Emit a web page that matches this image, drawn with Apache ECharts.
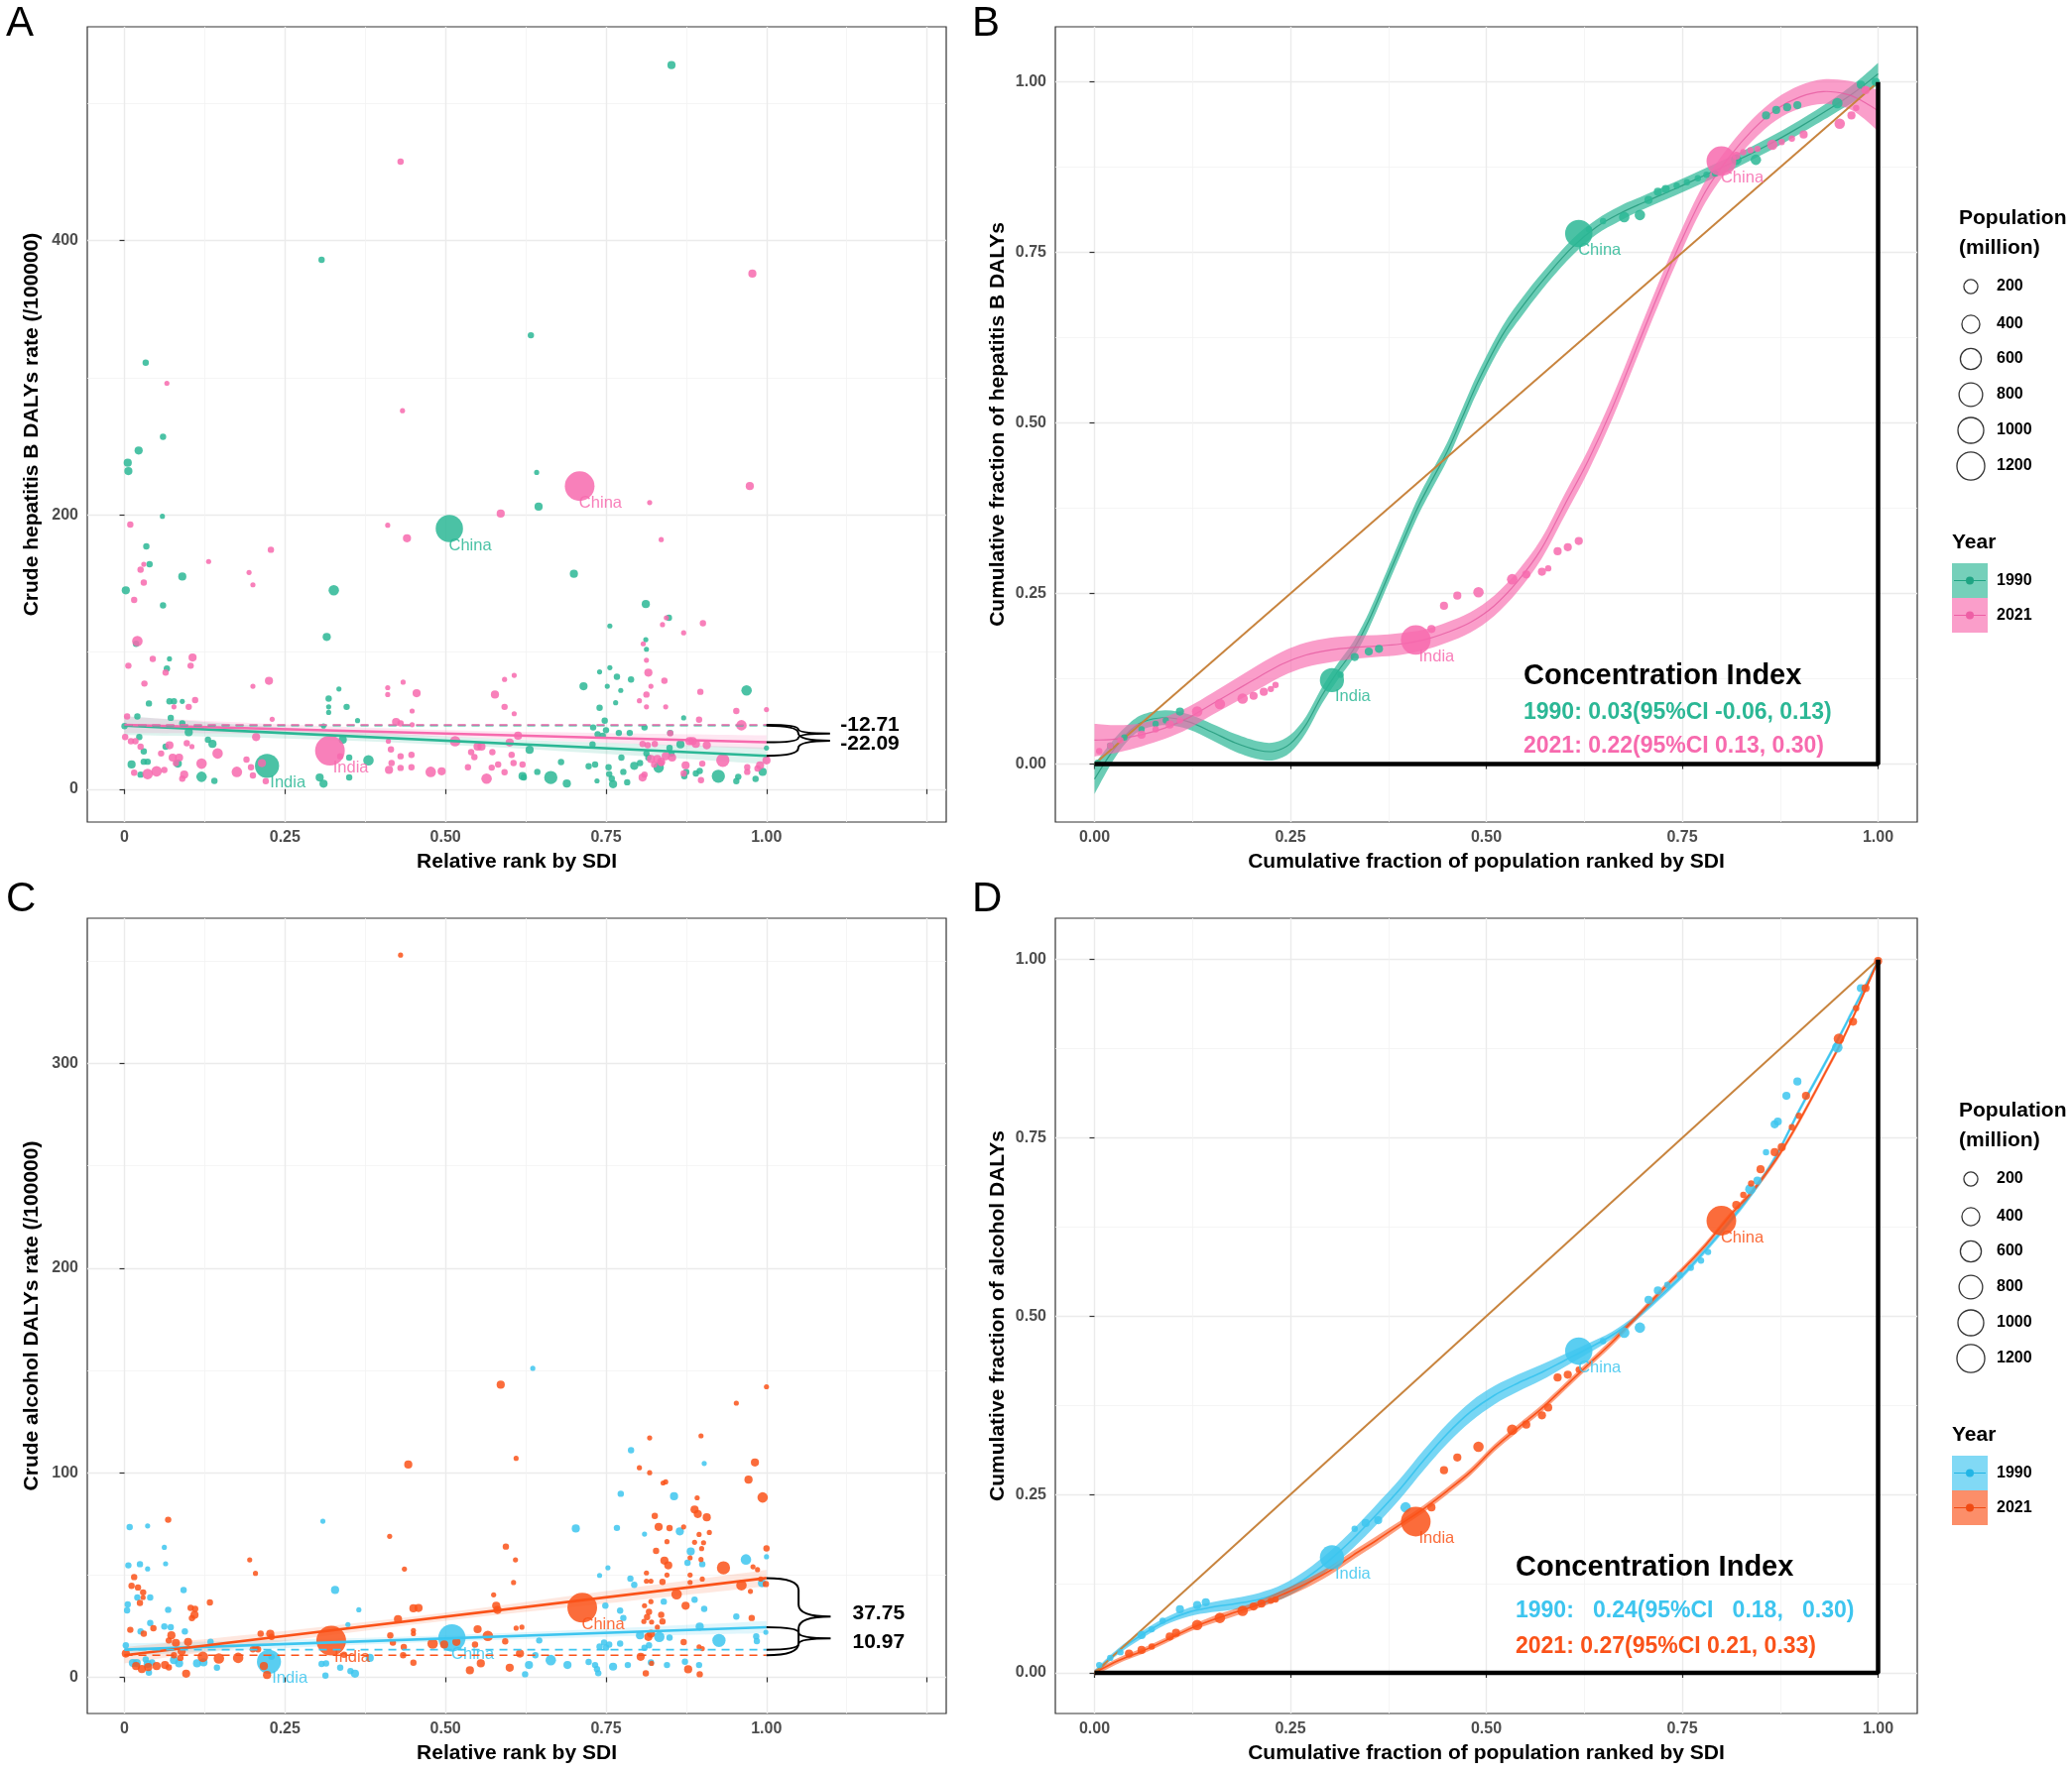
<!DOCTYPE html>
<html><head><meta charset="utf-8">
<script src="https://cdn.jsdelivr.net/npm/echarts@6/dist/echarts.min.js"></script>
<style>html,body{margin:0;padding:0;background:#fff}#c{width:2089px;height:1788px}</style>
</head><body><div id="c"></div><script>
const FONT = '"Liberation Sans", Arial, sans-serif';
const C_TEAL = '#2BB795', C_PINK = '#F76AAE', C_BLUE = '#3DC5EF', C_ORANGE = '#FA5219';

// ---------- Tick labels ----------
const rankTicks = [0, 0.25, 0.5, 0.75, 1, 1.25];
const rankLabels = [0, 0.25, 0.5, 0.75, 1];
const rankMinor = [0.125, 0.375, 0.625, 0.875, 1.125];
const hepYTicks = [0, 200, 400];
const hepYMinor = [100, 300, 500];
const alcYTicks = [0, 100, 200, 300];
const alcYMinor = [50, 150, 250, 350];
const fracTicks = [0, 0.25, 0.5, 0.75, 1];
const fracMinor = [0.125, 0.375, 0.625, 0.875];
const popLegend = [200, 400, 600, 800, 1000, 1200];

// ---------- Panel A: hepatitis B, [rank, rate, population] ----------
const hep1990 = [
[0.852,528,30],[0.307,386,8],[0.633,331,8],[0.033,311,8],[0.06,257,8],[0.022,247,30],[0.005,238,30],[0.006,232,30],[0.059,199,1],[0.034,177,8],[0.039,164,8],[0.09,155,30],[0.002,145,30],[0.06,134,8],[0.642,231,1],[0.645,206,30],[0.70,157,30],[0.315,111,30],[0.326,145,80],[0.812,135,30],[0.848,125,8],
[0.018,106,8],[0.07,95,1],[0.066,88,8],[0.038,62.5,8],[0.07,64,8],[0.077,64,8],[0.09,64,1],[0.02,53,8],[0.072,52,8],[0.09,48,8],[0,46,8],[0.023,38,8],[0.1,41.5,30],[0.13,36,8],[0.137,33,30],[0.03,27.5,8],[0.064,31,8],[0.011,18,30],[0.03,20,8],[0.036,20,8],[0.083,18.6,30],[0.025,10.6,8],[0.12,9,80],[0.14,6,8],[0.304,8.5,30],[0.31,4,30],[0.318,66,8],[0.318,60,1],[0.318,56,1],[0.334,73,1],[0.346,60,8],[0.363,50,1],[0.31,46,1],[0.34,36,30],[0.35,23,8],[0.38,21,80],[0.35,8.5,8],[0.62,9.5,30],
[0.756,119,1],[0.812,109,1],[0.813,102,1],[0.715,75,30],[0.767,82,8],[0.789,80,8],[0.74,85.5,1],[0.756,88.6,1],[0.752,75,1],[0.773,72,1],[0.765,63,1],[0.74,59.4,8],[0.969,72,80],[0.871,52,1],[0.73,45,8],[0.737,40,8],[0.745,39,8],[0.748,50,8],[0.75,43,8],[0.77,41,8],[0.787,41,8],[0.81,45,8],[0.85,41,8],[0.866,32.6,30],[0.729,32.6,8],[0.631,28.7,30],[0.68,19.8,8],[0.664,8.5,170],[0.689,4.1,30],[0.643,12.6,8],[0.622,8.5,8],[0.723,16.7,8],[0.733,18,8],[0.754,16,8],[0.755,11,8],[0.774,23,8],[0.777,12.6,8],[0.794,17,30],[0.803,19,8],[0.783,5,8],[0.761,3.6,30],[0.736,6,1],[0.759,7.7,8],[0.813,26,8],[0.816,23,8],[0.832,15.7,80],[0.849,30,8],[0.852,26,8],[0.875,12.6,8],[0.872,9.4,8],[0.89,11.4,8],[0.896,13.3,8],[0.925,9.4,170],[0.953,5.8,8],[0.956,9,8],[0.983,7.5,8],[0.994,12.6,30],[1.0,30,1]
];
const hep2021 = [
[0.43,457.7,8],[0.433,276,1],[0.066,296,1],[0.978,376,30],[0.974,221,30],[0.586,201,30],[0.818,209,1],[0.836,182,1],[0.41,192.5,1],[0.44,183,30],[0.009,193,8],[0.228,174.6,8],[0.131,166,1],[0.194,158,1],[0.2,149,1],[0.025,160,8],[0.03,164,1],[0.03,150.7,8],[0.015,138,8],[0.02,108,80],
[0.006,90,8],[0.044,95,8],[0.106,96,30],[0.103,90,8],[0.064,85,8],[0.031,77,8],[0.225,79,30],[0.2,75,1],[0.11,65,8],[0.1,60,8],[0.077,60,1],[0.004,53,8],[0.23,51,1],[0.001,38,8],[0.205,38,30],[0.01,35,8],[0.017,35,8],[0.025,31,8],[0.07,32,30],[0.057,26,8],[0.097,33.5,8],[0.105,31,1],[0.075,23,30],[0.085,23,30],[0.08,19,8],[0.12,18.6,80],[0.145,26,80],[0.05,13,80],[0.036,11,80],[0.062,14,8],[0.093,10.6,30],[0.09,7.7,8],[0.015,12,8],[0.175,12.6,80],[0.197,16,8],[0.2,10,8],[0.19,21.5,8],[0.22,5.8,8],[0.214,19,30],[0.336,24,8],[0.41,74,1],[0.41,69,1],[0.434,78,1],[0.455,70,30],[0.423,49,30],[0.43,48,8],[0.448,57,1],[0.448,47,1],[0.411,35,1],[0.415,29,8],[0.43,24,8],[0.447,25,8],[0.447,16,8],[0.416,19,8],[0.412,14,30],[0.43,15.5,8],[0.477,12.6,80],[0.494,13,30],[0.515,35,80],[0.55,31,30],[0.556,31,30],[0.54,27,8],[0.545,23.4,8],[0.535,16,8],[0.564,7.7,80],[0.577,69,30],[0.592,60,8],[0.592,80,1],[0.607,83,1],[0.607,55,1],[0.613,39,30],[0.6,34,30],[0.573,27,8],[0.603,25,8],[0.582,18,8],[0.572,15.7,8],[0.592,12.3,8],[0.606,19,8],[0.62,18,8],
[0.901,121,8],[0.871,114,1],[0.838,120,1],[0.844,125,1],[0.808,106,1],[0.813,94,1],[0.816,85,30],[0.841,79,8],[0.82,75,1],[0.813,69,8],[0.802,64.5,1],[0.813,60,1],[0.843,60,1],[0.897,71,8],[0.953,57,8],[1.0,58,1],[0.895,50.7,8],[0.961,46.6,80],[0.807,33,8],[0.815,32,8],[0.826,33,8],[0.85,40.8,8],[0.88,35,30],[0.885,35,30],[0.89,33,30],[0.907,32,30],[0.82,22,30],[0.83,22,30],[0.836,20,30],[0.843,24,30],[0.853,23,30],[0.825,18,8],[0.836,19,8],[0.874,17.4,30],[0.9,18.6,8],[0.932,21,170],[1.0,21,30],[0.99,17.4,30],[0.807,8.5,30],[0.81,10.6,8],[0.898,6.5,8],[0.97,12.6,8],[0.97,16,8],[0.986,15,8],[0.871,11.4,8]
];
const hepKey1990 = [['China',0.506,190,1150],['India',0.222,17,850]];
const hepKey2021 = [['China',0.709,221,1400],['India',0.32,28,1400]];
const hepFit1990 = [[0,46.4],[1,24.3]];
const hepFit2021 = [[0,46.9],[1,34.2]];
const hepBand1990 = [[0,39.4,53.4],[0.25,36.9,44.9],[0.5,32.4,38.4],[0.75,25.8,33.8],[1,18.3,30.3]];
const hepBand2021 = [[0,40.9,52.9],[0.25,40.2,47.2],[0.5,38,43],[0.75,33.9,40.9],[1,29.2,39.2]];
const hepBase1990 = [[0,46.4],[1,46.4]];
const hepBase2021 = [[0,46.9],[1,46.9]];
const hepBraces = [[1.0,46.9,34.2,1.099],[1.0,46.4,24.3,1.099]];
const hepBraceText = [[1.115,46.7,'-12.71'],[1.115,32.9,'-22.09']];

// ---------- Panel C: alcohol ----------
const alc1990 = [
[0.636,151,1],
[0.008,73.4,8],[0.036,74,1],[0.006,54.7,8],[0.024,55.3,8],[0.036,53,1],[0.062,63.5,1],[0.064,55.5,1],[0.309,76.3,1],[0.328,42.7,30],[0.365,33,1],[0.348,25.8,1],[0.092,42.6,8],[0.068,33,8],[0.04,39,8],[0.02,39,8],[0.005,35.6,8],[0.004,32.7,8],[0.04,26.5,8],[0.025,22.4,8],[0.062,24.8,8],[0.072,24.5,8],[0.094,22.4,8],[0.002,15.6,8],[0.013,7,30],[0.019,7,30],[0.036,6.5,30],[0.033,8.7,8],[0.043,7.3,8],[0.038,2.3,8],[0.077,8.4,30],[0.085,6.8,30],[0.113,6.8,30],[0.123,7.3,30],[0.144,4.7,8],[0.134,17.3,8],[0.229,10,8],[0.307,6.5,8],[0.314,6.8,8],[0.313,0.8,8],[0.336,4.7,8],[0.352,3,8],[0.359,1.8,30],[0.382,9.5,30],[0.624,1.5,8],
[0.789,111,8],[0.903,104.5,1],[0.773,89.7,8],[0.856,88.5,30],[0.703,72.7,30],[0.767,73,8],[0.865,71.3,30],[0.81,70,1],[0.882,61.5,30],[0.9,55.3,8],[0.877,56,8],[0.968,57.6,80],[1.0,58.9,1],[0.753,53.5,1],[0.74,49.8,1],[0.788,48.2,8],[0.794,45.2,8],[0.993,46,30],[0.888,37.9,8],[0.903,33.4,8],[0.84,37,8],[0.749,35,8],[0.772,32.6,8],[0.777,29,8],[0.953,29.7,8],[0.896,24.8,30],[0.803,20.5,30],[0.833,19.7,80],[0.926,18,170],[0.849,19.4,8],[0.74,15,8],[0.747,17,8],[0.755,16,8],[0.75,14.5,8],[0.772,16.5,8],[0.81,14.4,8],[0.817,15.6,8],[0.63,6,30],[0.64,10.8,8],[0.646,18,8],[0.664,8.4,80],[0.69,6,30],[0.723,7.5,8],[0.733,6,8],[0.736,4,8],[0.738,2,8],[0.761,5.2,30],[0.784,6,8],[0.82,7.3,8],[0.845,6,8],[0.873,7.6,8],[0.895,6,8],[0.984,20,8],[0.985,17.7,8],[0.999,22,1]
];
const alc2021 = [
[0.43,353,1],[0.586,143,30],[1.0,142,1],[0.953,134,1],[0.818,117,1],[0.898,118,1],
[0.068,77,8],[0.195,57.4,1],[0.204,50.8,1],[0.015,49,8],[0.011,44.7,8],[0.021,43.9,8],[0.029,41.5,8],[0.029,39,1],[0.024,36.3,8],[0.009,23.2,8],[0.045,24,8],[0.03,21.3,8],[0.073,20.5,30],[0.069,18,8],[0.103,33.9,8],[0.11,33.4,8],[0.109,30.5,30],[0.105,28.9,8],[0.133,36.6,8],[0.08,16.8,30],[0.099,17.3,30],[0.089,12.7,30],[0.002,11.6,30],[0.077,10.8,8],[0.087,9.5,8],[0.018,5.5,30],[0.027,4,30],[0.037,5,30],[0.05,5.5,30],[0.063,6,30],[0.069,4.8,8],[0.096,1.8,30],[0.122,10,80],[0.147,9.2,80],[0.177,9.5,80],[0.2,13.7,8],[0.204,14.4,8],[0.208,13.7,8],[0.212,21.3,8],[0.227,21.3,30],[0.229,19.7,8],[0.217,5.5,30],[0.222,1.1,30],[0.342,11,8],[0.413,68.9,1],[0.436,52.9,1],[0.426,28.4,30],[0.45,33.7,30],[0.458,33.9,30],[0.45,22.9,1],[0.45,21.3,1],[0.414,20.5,8],[0.418,16.9,8],[0.435,14.8,8],[0.434,10.8,8],[0.45,7.1,8],[0.442,104,30],[0.48,16.5,80],[0.498,16,30],[0.517,17.3,30],[0.55,23.5,30],[0.546,16,8],[0.538,3.4,30],[0.555,6.8,30],[0.566,20.2,80],[0.579,35,30],[0.581,32.9,30],[0.575,40.3,1],[0.594,63.9,8],[0.609,57.4,1],[0.606,46.3,1],[0.61,107,1],[0.61,24,1],[0.593,17.6,8],[0.6,4.7,30],[0.616,11.6,30],
[0.982,105,30],[0.972,96.6,30],[0.994,87.9,80],[0.802,102.4,1],[0.818,100,1],[0.839,95,1],[0.843,95.5,1],[0.892,87.7,1],[0.888,82,30],[0.893,79.8,30],[0.907,78.2,30],[0.826,78.9,8],[0.832,73.5,30],[0.849,72.9,8],[0.871,73.5,1],[0.911,70.8,1],[0.895,69.8,1],[0.845,66.3,1],[0.888,66,1],[0.902,65.8,1],[0.899,62.9,1],[0.828,61.8,8],[1.0,63,8],[0.881,58.4,1],[0.898,57.6,1],[0.841,57,30],[0.847,54.7,30],[0.933,53.5,170],[0.979,54,1],[0.986,52.6,1],[0.813,51,1],[0.845,50,1],[0.813,47,1],[0.82,47,1],[0.838,46.6,8],[0.881,50,1],[0.881,46.4,1],[0.9,48,1],[0.961,45,80],[0.975,42,1],[0.991,48,1],[0.999,45.6,8],[0.86,40.6,80],[0.82,37,1],[0.81,35,1],[0.874,35,30],[0.836,30.5,8],[0.817,32,8],[0.814,29.4,8],[0.821,27,1],[0.977,29,8],[0.838,27.3,8],[0.809,27.3,1],[0.619,24.5,1],[0.816,19.7,30],[0.82,21.3,30],[0.83,24.5,1],[0.871,17.2,8],[0.895,14.8,1],[0.9,14,1],[0.804,10,30],[0.821,6.8,1],[0.812,1.9,8],[0.878,3.9,30],[0.896,1.5,8]
];
const alcKey1990 = [['China',0.51,19.2,1150],['India',0.225,7.6,850]];
const alcKey2021 = [['China',0.713,34,1400],['India',0.322,17.9,1400]];
const alcFit1990 = [[0,13.5],[1,24.5]];
const alcFit2021 = [[0,10.8],[1,48.5]];
const alcBand1990 = [[0,10.5,16.5],[0.25,14.25,18.25],[0.5,17.5,20.5],[0.75,19.75,23.75],[1,21.5,27.5]];
const alcBand2021 = [[0,6.8,14.8],[0.25,17.7,22.7],[0.5,27.65,31.65],[0.75,36.1,42.1],[1,44.5,52.5]];
const alcBase1990 = [[0,13.5],[1,13.5]];
const alcBase2021 = [[0,10.8],[1,10.8]];
const alcBraces = [[1.0,48.5,10.8,1.10],[1.0,24.5,13.5,1.10]];
const alcBraceText = [[1.134,31,'37.75'],[1.134,16.9,'10.97']];

// ---------- Panel B: concentration curve hepatitis B [cumPop, cumDALY, population] ----------
const conHep1990 = [[0.004,0.002,8],[0.02,0.027,8],[0.038,0.039,8],[0.06,0.051,8],[0.078,0.059,8],[0.091,0.064,8],[0.109,0.077,30],[0.314,0.131,8],[0.332,0.157,30],[0.35,0.165,30],[0.363,0.169,30],[0.631,0.784,8],[0.649,0.796,8],[0.676,0.802,80],[0.696,0.805,80],[0.707,0.827,30],[0.719,0.839,30],[0.729,0.843,30],[0.743,0.848,8],[0.756,0.853,8],[0.77,0.859,8],[0.781,0.864,8],[0.792,0.866,8],[0.819,0.886,80],[0.844,0.886,80],[0.857,0.951,30],[0.87,0.959,30],[0.884,0.963,30],[0.897,0.966,30],[0.948,0.969,80],[0.978,0.996,30],[0.997,1.0,30]];
const conHep2021 = [[0.006,0.019,8],[0.02,0.027,8],[0.033,0.035,8],[0.06,0.043,30],[0.078,0.051,8],[0.096,0.058,30],[0.109,0.064,8],[0.131,0.077,80],[0.16,0.088,80],[0.189,0.096,80],[0.203,0.1,30],[0.216,0.106,30],[0.225,0.11,8],[0.231,0.116,8],[0.43,0.198,30],[0.446,0.232,30],[0.463,0.247,30],[0.49,0.252,80],[0.533,0.271,80],[0.551,0.278,30],[0.571,0.282,30],[0.579,0.287,8],[0.591,0.312,30],[0.604,0.318,30],[0.618,0.327,30],[0.819,0.892,30],[0.828,0.897,8],[0.837,0.9,8],[0.846,0.902,8],[0.865,0.908,80],[0.877,0.912,8],[0.89,0.917,8],[0.905,0.923,30],[0.951,0.939,80],[0.966,0.951,30],[0.972,0.962,8],[0.984,0.988,30]];
const conHepKey1990 = [['China',0.618,0.778,1150],['India',0.303,0.123,850]];
const conHepKey2021 = [['China',0.8,0.884,1400],['India',0.41,0.182,1400]];
// smoothed curve: [x, y, half band width]
const conHepCurve1990 = [[0,-0.022,0.022],[0.02,0.014,0.016],[0.04,0.043,0.012],[0.06,0.061,0.011],[0.09,0.068,0.011],[0.12,0.062,0.011],[0.15,0.047,0.012],[0.18,0.031,0.013],[0.21,0.020,0.013],[0.23,0.019,0.013],[0.25,0.03,0.013],[0.27,0.058,0.012],[0.29,0.10,0.012],[0.31,0.135,0.012],[0.33,0.167,0.012],[0.35,0.21,0.012],[0.38,0.29,0.012],[0.41,0.37,0.013],[0.43,0.415,0.013],[0.45,0.458,0.013],[0.47,0.51,0.013],[0.49,0.562,0.013],[0.52,0.628,0.013],[0.55,0.677,0.013],[0.58,0.72,0.012],[0.61,0.758,0.012],[0.64,0.787,0.011],[0.67,0.807,0.011],[0.70,0.823,0.01],[0.74,0.843,0.01],[0.78,0.864,0.01],[0.82,0.885,0.01],[0.86,0.908,0.01],[0.90,0.934,0.01],[0.94,0.962,0.011],[0.97,0.985,0.013],[1.0,1.012,0.016]];
const conHepCurve2021 = [[0,0.035,0.024],[0.03,0.037,0.02],[0.06,0.043,0.017],[0.09,0.053,0.016],[0.12,0.068,0.016],[0.15,0.088,0.016],[0.18,0.108,0.017],[0.21,0.128,0.018],[0.24,0.147,0.018],[0.27,0.16,0.018],[0.30,0.167,0.018],[0.33,0.171,0.017],[0.36,0.173,0.016],[0.39,0.176,0.016],[0.42,0.182,0.015],[0.45,0.193,0.015],[0.48,0.208,0.015],[0.51,0.232,0.015],[0.54,0.268,0.015],[0.57,0.315,0.015],[0.60,0.38,0.016],[0.63,0.445,0.016],[0.66,0.52,0.016],[0.69,0.605,0.016],[0.72,0.69,0.016],[0.75,0.77,0.016],[0.78,0.84,0.016],[0.81,0.89,0.016],[0.84,0.93,0.016],[0.87,0.96,0.016],[0.90,0.978,0.017],[0.93,0.986,0.018],[0.96,0.982,0.02],[0.98,0.972,0.024],[1.0,0.958,0.03]];

// ---------- Panel D: concentration curve alcohol ----------
const conAlc1990 = [[0.006,0.011,8],[0.02,0.021,8],[0.033,0.029,8],[0.06,0.053,30],[0.073,0.061,8],[0.087,0.073,8],[0.109,0.089,30],[0.131,0.095,30],[0.142,0.099,30],[0.332,0.202,8],[0.346,0.21,30],[0.362,0.214,30],[0.397,0.232,80],[0.649,0.465,8],[0.676,0.477,80],[0.696,0.484,80],[0.707,0.523,30],[0.719,0.536,30],[0.731,0.544,8],[0.747,0.558,8],[0.761,0.568,8],[0.774,0.578,8],[0.783,0.59,8],[0.837,0.678,80],[0.846,0.69,30],[0.857,0.73,8],[0.868,0.769,30],[0.872,0.773,30],[0.883,0.809,30],[0.897,0.829,30],[0.948,0.877,80],[0.978,0.96,30],[1.0,0.996,8]];
const conAlc2021 = [[0.044,0.027,30],[0.06,0.032,30],[0.073,0.037,8],[0.096,0.051,30],[0.104,0.056,30],[0.131,0.067,80],[0.16,0.077,80],[0.189,0.087,80],[0.203,0.093,30],[0.213,0.097,30],[0.225,0.101,8],[0.231,0.103,8],[0.43,0.232,30],[0.446,0.284,30],[0.463,0.302,30],[0.49,0.317,80],[0.533,0.341,80],[0.551,0.348,30],[0.571,0.361,30],[0.579,0.372,30],[0.591,0.414,30],[0.604,0.418,30],[0.618,0.425,8],[0.819,0.656,30],[0.828,0.67,8],[0.838,0.686,8],[0.85,0.706,30],[0.868,0.73,30],[0.877,0.737,30],[0.89,0.765,8],[0.899,0.781,8],[0.908,0.809,30],[0.95,0.889,80],[0.968,0.913,30],[0.972,0.932,8],[0.984,0.96,30],[1.0,0.998,30]];
const conAlcKey1990 = [['China',0.618,0.451,1150],['India',0.303,0.162,850]];
const conAlcKey2021 = [['China',0.8,0.634,1400],['India',0.41,0.212,1400]];
const conAlcCurve1990 = [[0,0.0,0.004],[0.03,0.03,0.004],[0.06,0.053,0.005],[0.09,0.072,0.005],[0.12,0.085,0.006],[0.15,0.092,0.007],[0.18,0.097,0.008],[0.21,0.103,0.009],[0.24,0.114,0.01],[0.27,0.133,0.011],[0.30,0.158,0.012],[0.33,0.188,0.013],[0.36,0.222,0.014],[0.39,0.258,0.014],[0.42,0.298,0.014],[0.45,0.335,0.014],[0.48,0.366,0.014],[0.51,0.389,0.013],[0.54,0.406,0.012],[0.57,0.421,0.011],[0.60,0.438,0.009],[0.63,0.455,0.007],[0.66,0.473,0.005],[0.69,0.497,0.004],[0.72,0.526,0.004],[0.75,0.557,0.004],[0.78,0.593,0.004],[0.81,0.632,0.004],[0.84,0.674,0.004],[0.87,0.725,0.004],[0.90,0.79,0.004],[0.93,0.85,0.004],[0.96,0.912,0.004],[1.0,0.998,0.004]];
const conAlcCurve2021 = [[0,0.0,0.004],[0.03,0.017,0.004],[0.06,0.03,0.004],[0.09,0.045,0.004],[0.12,0.061,0.004],[0.15,0.074,0.005],[0.18,0.085,0.005],[0.21,0.096,0.005],[0.24,0.11,0.006],[0.27,0.125,0.006],[0.30,0.143,0.006],[0.33,0.165,0.006],[0.36,0.186,0.006],[0.39,0.208,0.005],[0.42,0.23,0.005],[0.45,0.255,0.005],[0.48,0.282,0.005],[0.51,0.315,0.005],[0.54,0.343,0.005],[0.57,0.37,0.005],[0.60,0.401,0.005],[0.63,0.432,0.005],[0.66,0.463,0.005],[0.69,0.497,0.004],[0.72,0.532,0.004],[0.75,0.565,0.004],[0.78,0.6,0.004],[0.81,0.64,0.004],[0.84,0.676,0.004],[0.87,0.72,0.004],[0.90,0.775,0.004],[0.93,0.836,0.004],[0.96,0.9,0.004],[1.0,0.998,0.004]];
const equality = [[0,0],[1,1]];
const frame = [[0,0],[1,0],[1,1]];

// ---------- helpers ----------
function popSize(p){ return 4.5 + 0.68*Math.sqrt(p); }
function crSeg(p){
  let s='';
  for(let i=0;i<p.length-1;i++){
    const p0=p[i-1]||p[i], p1=p[i], p2=p[i+1], p3=p[i+2]||p[i+1];
    const c1=[p1[0]+(p2[0]-p0[0])/6, p1[1]+(p2[1]-p0[1])/6];
    const c2=[p2[0]-(p3[0]-p1[0])/6, p2[1]-(p3[1]-p1[1])/6];
    s+=' C'+c1[0]+','+c1[1]+' '+c2[0]+','+c2[1]+' '+p2[0]+','+p2[1];
  }
  return s;
}
function scatter(pts, keys, color, ai){
  const data = pts.map(p=>p.slice());
  keys.forEach(k=>data.push({value:[k[1],k[2],k[3]], label:{show:true, formatter:k[0]}}));
  return {type:'scatter', xAxisIndex:ai*2, yAxisIndex:ai*2, data, symbolSize:v=>popSize(v[2]),
    itemStyle:{color, opacity:0.85}, z:3, silent:true,
    label:{show:false, position:'inside', offset:[21,17], color, fontSize:16.5, fontFamily:FONT}};
}
// arr: [x, y, half]
function curve(arr, bandColor, lineColor, ai, lw){
  return {type:'custom', xAxisIndex:ai*2, yAxisIndex:ai*2, data:arr.map(a=>[a[0],a[1]]), z:2, silent:true,
    renderItem:(params, api)=>{
      if(params.dataIndex!==0) return null;
      const up = arr.map(a=>api.coord([a[0],a[1]+a[2]]));
      const lo = arr.map(a=>api.coord([a[0],a[1]-a[2]])).reverse();
      const mid = arr.map(a=>api.coord([a[0],a[1]]));
      const d = 'M'+up[0][0]+','+up[0][1]+crSeg(up)+' L'+lo[0][0]+','+lo[0][1]+crSeg(lo)+' Z';
      const children=[{type:'path', shape:{pathData:d}, style:{fill:bandColor}}];
      if(lineColor) children.push({type:'path', shape:{pathData:'M'+mid[0][0]+','+mid[0][1]+crSeg(mid)}, style:{stroke:lineColor, lineWidth:lw||1.2, fill:null}});
      return {type:'group', children};
    }};
}
function bandFromLoHi(arr){ return arr.map(a=>[a[0],(a[1]+a[2])/2,(a[2]-a[1])/2]); }
function line(data, color, ai, width, dash, z){
  return {type:'line', xAxisIndex:ai*2, yAxisIndex:ai*2, data, symbol:'none', silent:true, z:z||4,
    lineStyle:{color, width, type:dash?[8,6]:'solid'}};
}
function braces(arr, ai){
  return {type:'custom', xAxisIndex:ai*2, yAxisIndex:ai*2, data:arr, z:5, silent:true,
    renderItem:(params, api)=>{
      const x0=api.value(0), yT=api.value(1), yB=api.value(2), xt=api.value(3);
      const T=api.coord([x0,yT]), B=api.coord([x0,yB]), tip=api.coord([xt,(yT+yB)/2]);
      const xm=T[0]+(tip[0]-T[0])*0.5, r=Math.min(12,Math.abs(B[1]-T[1])/4), yM=tip[1];
      const d='M'+T[0]+','+T[1]+' Q'+xm+','+T[1]+' '+xm+','+(T[1]+r)+' L'+xm+','+(yM-r)+' Q'+xm+','+yM+' '+tip[0]+','+yM+
              ' M'+B[0]+','+B[1]+' Q'+xm+','+B[1]+' '+xm+','+(B[1]-r)+' L'+xm+','+(yM+r)+' Q'+xm+','+yM+' '+tip[0]+','+yM;
      return {type:'path', shape:{pathData:d}, style:{stroke:'#000', lineWidth:2, fill:null}};
    }};
}
function braceLabels(arr, ai){
  return {type:'custom', xAxisIndex:ai*2, yAxisIndex:ai*2, data:arr, z:5, silent:true,
    renderItem:(params, api)=>{
      const p=api.coord([api.value(0),api.value(1)]);
      return {type:'text', x:p[0], y:p[1], style:{text:arr[params.dataIndex][2], fill:'#000', fontSize:21, fontWeight:'bold', fontFamily:FONT, align:'left', verticalAlign:'middle'}};
    }};
}

// ---------- axes ----------
const fmtRank = v => v===0 ? '0' : v.toFixed(2);
const fmtFrac = v => v.toFixed(2);
const fmtInt = v => String(v);
const panels = [
  {grid:{left:88, top:27, width:866, height:802},
   x:{min:-0.058, max:1.28, ticks:rankTicks, labels:rankLabels, minor:rankMinor, fmt:fmtRank, name:'Relative rank by SDI', gap:30},
   y:{min:-24, max:556, ticks:hepYTicks, labels:hepYTicks, minor:hepYMinor, fmt:fmtInt, name:'Crude hepatitis B DALYs rate (/100000)', gap:45}},
  {grid:{left:1064, top:27, width:869, height:802},
   x:{min:-0.05, max:1.05, ticks:fracTicks, labels:fracTicks, minor:fracMinor, fmt:fmtFrac, name:'Cumulative fraction of population ranked by SDI', gap:30},
   y:{min:-0.085, max:1.081, ticks:fracTicks, labels:fracTicks, minor:fracMinor, fmt:fmtFrac, name:'Cumulative fraction of hepatitis B DALYs', gap:47}},
  {grid:{left:88, top:926, width:866, height:802},
   x:{min:-0.058, max:1.28, ticks:rankTicks, labels:rankLabels, minor:rankMinor, fmt:fmtRank, name:'Relative rank by SDI', gap:30},
   y:{min:-17.7, max:371, ticks:alcYTicks, labels:alcYTicks, minor:alcYMinor, fmt:fmtInt, name:'Crude alcohol DALYs rate (/100000)', gap:45}},
  {grid:{left:1064, top:926, width:869, height:802},
   x:{min:-0.05, max:1.05, ticks:fracTicks, labels:fracTicks, minor:fracMinor, fmt:fmtFrac, name:'Cumulative fraction of population ranked by SDI', gap:30},
   y:{min:-0.057, max:1.058, ticks:fracTicks, labels:fracTicks, minor:fracMinor, fmt:fmtFrac, name:'Cumulative fraction of alcohol DALYs', gap:47}}
];
function axisPair(gi, s, dir){
  const major = {type:'value', gridIndex:gi, min:s.min, max:s.max,
    axisLine:{show:false},
    axisTick:{show:true, customValues:s.ticks, length:5, lineStyle:{color:'#333', width:1.2}},
    axisLabel:{show:true, customValues:s.labels, formatter:s.fmt, margin:dir==='x'?8:9, color:'#4D4D4D', fontSize:16, fontWeight:'bold', fontFamily:FONT},
    splitLine:{show:true, lineStyle:{color:'#EBEBEB', width:1.4}},
    name:s.name, nameLocation:'middle', nameGap:s.gap,
    nameTextStyle:{fontSize:21, fontWeight:'bold', color:'#000', fontFamily:FONT}};
  const minor = {type:'value', gridIndex:gi, min:s.min, max:s.max,
    axisLine:{show:false}, axisTick:{show:false, customValues:s.minor}, axisLabel:{show:false},
    splitLine:{show:true, lineStyle:{color:'#F2F2F2', width:0.8}}};
  return [major, minor];
}
const grids=[], xAxes=[], yAxes=[];
panels.forEach((p,i)=>{
  grids.push(Object.assign({show:true, borderColor:'#333', borderWidth:1.2, backgroundColor:'transparent'}, p.grid));
  xAxes.push(...axisPair(i,p.x,'x'));
  yAxes.push(...axisPair(i,p.y,'y'));
});

// ---------- series ----------
const series = [
  // A
  curve(bandFromLoHi(hepBand1990),'rgba(43,183,149,0.16)',null,0),
  curve(bandFromLoHi(hepBand2021),'rgba(247,106,174,0.16)',null,0),
  scatter(hep1990, hepKey1990, C_TEAL, 0),
  scatter(hep2021, hepKey2021, C_PINK, 0),
  line(hepFit1990, C_TEAL, 0, 2.6),
  line(hepFit2021, C_PINK, 0, 2.6),
  line(hepBase1990, C_TEAL, 0, 1.6, true),
  line(hepBase2021, C_PINK, 0, 1.6, true),
  braces(hepBraces,0), braceLabels(hepBraceText,0),
  // B
  line(equality,'#C8843E',1,2,false,2),
  curve(conHepCurve1990,'rgba(43,183,149,0.7)','rgba(30,150,120,0.8)',1),
  curve(conHepCurve2021,'rgba(247,106,174,0.65)','rgba(230,90,160,0.8)',1),
  scatter(conHep1990, conHepKey1990, C_TEAL, 1),
  scatter(conHep2021, conHepKey2021, C_PINK, 1),
  line(frame,'#000',1,4.5,false,6),
  // C
  curve(bandFromLoHi(alcBand1990),'rgba(61,197,239,0.16)',null,2),
  curve(bandFromLoHi(alcBand2021),'rgba(250,82,25,0.14)',null,2),
  scatter(alc1990, alcKey1990, C_BLUE, 2),
  scatter(alc2021, alcKey2021, C_ORANGE, 2),
  line(alcFit1990, C_BLUE, 2, 2.6),
  line(alcFit2021, C_ORANGE, 2, 2.6),
  line(alcBase1990, C_BLUE, 2, 1.6, true),
  line(alcBase2021, C_ORANGE, 2, 1.6, true),
  braces(alcBraces,2), braceLabels(alcBraceText,2),
  // D
  line(equality,'#C8843E',3,2,false,2),
  curve(conAlcCurve1990,'rgba(61,197,239,0.7)',C_BLUE,3,1.6),
  curve(conAlcCurve2021,'rgba(250,82,25,0.55)',C_ORANGE,3,1.6),
  scatter(conAlc1990, conAlcKey1990, C_BLUE, 3),
  scatter(conAlc2021, conAlcKey2021, C_ORANGE, 3),
  line(frame,'#000',3,4.5,false,6)
];

// ---------- annotations / legends ----------
function txt(t,x,y,size,weight,color,align){
  return {type:'text', x, y, z:100, style:{text:t, fontSize:size, fontWeight:weight||'normal', fontFamily:FONT, fill:color||'#000', align:align||'left', verticalAlign:'middle', textAlign:align||'left', textVerticalAlign:'middle'}};
}
function legend(dy, c1, c2, b1, b2){
  const els=[ txt('Population',1975,220+dy,21,'bold'), txt('(million)',1975,250+dy,21,'bold') ];
  const ys=[289,327,362,398,434,470];
  popLegend.forEach((p,i)=>{
    els.push({type:'circle', z:100, shape:{cx:1987, cy:ys[i]+dy, r:popSize(p)/2}, style:{fill:'none', stroke:'#333', lineWidth:1.3}});
    els.push(txt(String(p),2013,ys[i]+dy,16,'bold'));
  });
  els.push(txt('Year',1968,547+dy,21,'bold'));
  [[568,b1,c1,'1990'],[603,b2,c2,'2021']].forEach(r=>{
    els.push({type:'rect', z:100, shape:{x:1968,y:r[0]+dy,width:36,height:35}, style:{fill:r[1]}});
    els.push({type:'line', z:101, shape:{x1:1970,y1:r[0]+dy+17.5,x2:2002,y2:r[0]+dy+17.5}, style:{stroke:r[2], lineWidth:1}});
    els.push({type:'circle', z:101, shape:{cx:1986,cy:r[0]+dy+17.5,r:4}, style:{fill:r[2]}});
    els.push(txt(r[3],2013,r[0]+dy+17.5,16,'bold'));
  });
  return els;
}
const graphics = [
  txt('A',6,24,42), txt('B',980,24,42), txt('C',6,907,42), txt('D',980,907,42),
  txt('Concentration Index',1536,682,29,'bold','#000'),
  txt('1990: 0.03(95%CI -0.06, 0.13)',1536,719,23,'bold',C_TEAL),
  txt('2021: 0.22(95%CI 0.13, 0.30)',1536,753,23,'bold',C_PINK),
  txt('Concentration Index',1528,1581,29,'bold','#000'),
  txt('1990:   0.24(95%CI   0.18,   0.30)',1528,1625,23,'bold',C_BLUE),
  txt('2021: 0.27(95%CI 0.21, 0.33)',1528,1661,23,'bold',C_ORANGE),
  ...legend(0, '#1FA483', '#EE5FA5', 'rgba(43,183,149,0.65)', 'rgba(247,106,174,0.65)'),
  ...legend(900, '#22B5E5', '#F04A12', 'rgba(61,197,239,0.65)', 'rgba(250,82,25,0.65)')
];

const chart = echarts.init(document.getElementById('c'), null, {renderer:'canvas'});
chart.setOption({
  animation:false, backgroundColor:'#fff',
  grid:grids, xAxis:xAxes, yAxis:yAxes, series, graphic:graphics
});
</script></body></html>
